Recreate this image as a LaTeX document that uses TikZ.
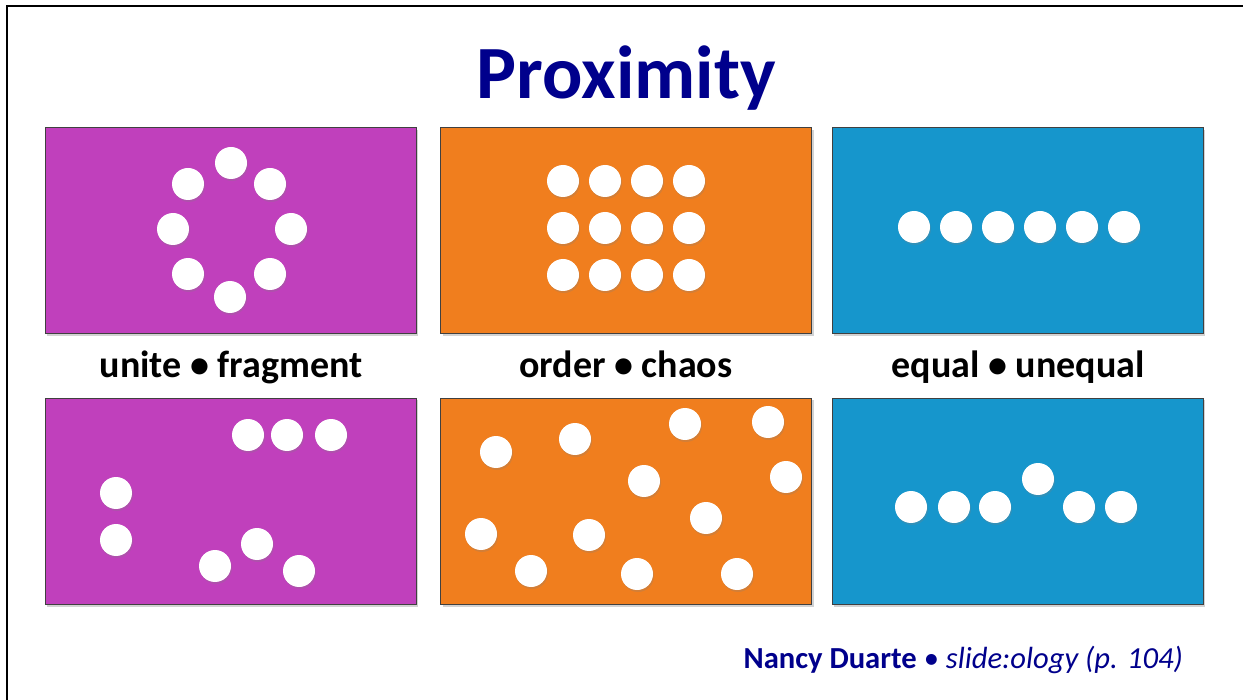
\documentclass[tikz,border=0pt]{standalone}
\usepackage{fontspec}
\setmainfont{Carlito}
\usetikzlibrary{shadows}

\definecolor{navy}{RGB}{0,0,140}
\definecolor{magpanel}{RGB}{192,64,188}
\definecolor{orgpanel}{RGB}{240,126,30}
\definecolor{bluepanel}{RGB}{22,150,204}

\begin{document}
\begin{tikzpicture}[
    x=0.5pt, y=-0.5pt,
    panel/.style={rectangle, draw=black!75, line width=0.5pt, minimum width=185.5pt, minimum height=103pt,
        drop shadow={opacity=0.35, shadow xshift=1pt, shadow yshift=-1pt}},
    dot/.style={circle, fill=white, minimum size=16pt, inner sep=0pt,
        drop shadow={opacity=0.25, shadow xshift=0.5pt, shadow yshift=-1pt}},
    caption/.style={anchor=base, font=\bfseries\fontsize{19}{22}\selectfont}
]
    \useasboundingbox (0,0) rectangle (1243,700);
    \clip (0,0) rectangle (1243,700);
    \fill[white] (0,0) rectangle (1243,700);
    \draw[line width=1.2pt] (7,6) rectangle (1260,720);

    \node[anchor=base, text=navy, font=\bfseries\fontsize{37.6}{42}\selectfont] (title) at (626.5,99) {Proximity};

    % top row
    \node[panel, fill=magpanel] (unite) at (230.5,231) {};
    \node[panel, fill=orgpanel] (order) at (626,231) {};
    \node[panel, fill=bluepanel] (equal) at (1017.5,231) {};

    % bottom row
    \node[panel, fill=magpanel] (fragment) at (230.5,501.5) {};
    \node[panel, fill=orgpanel] (chaos) at (626,501.5) {};
    \node[panel, fill=bluepanel] (unequal) at (1017.5,501.5) {};

    \node[caption] (cap1) at (231,378) {unite • fragment};
    \node[caption] (cap2) at (626,378) {order • chaos};
    \node[caption] (cap3) at (1018,378) {equal • unequal};

    % ring of dots
    \foreach \x/\y [count=\i] in {231/163, 270/184, 291/229, 270/274, 230/297, 188/274, 173/229, 188/184}
        \node[dot] (ring\i) at (\x,\y) {};

    % grid of dots
    \foreach \y [count=\j] in {181, 228, 275}
        \foreach \x [count=\i] in {563, 605, 647, 689}
            \node[dot] (grid\j\i) at (\x,\y) {};

    % even row
    \foreach \x [count=\i] in {914, 956, 998, 1040, 1082, 1124}
        \node[dot] (row\i) at (\x,227) {};

    % broken groups
    \foreach \x/\y [count=\i] in {248/435, 287/435, 331/435, 116/493, 116/540, 215/566, 257/544, 299/571}
        \node[dot] (frag\i) at (\x,\y) {};

    % scattered dots
    \foreach \x/\y [count=\i] in {496/452, 575/439, 685/424, 768/422, 644/481, 786/477,
                                  706/518, 481/534, 589/535, 531/571, 637/574, 737/574}
        \node[dot] (mess\i) at (\x,\y) {};

    % row with one dot lifted
    \foreach \x/\y [count=\i] in {911/507, 954/507, 995/507, 1038/479, 1079/507, 1121/507}
        \node[dot] (odd\i) at (\x,\y) {};

    \node[anchor=base east, text=navy, font=\fontsize{15.3}{18}\selectfont] (source) at (1190,668)
        {\textbf{Nancy Duarte} • \textit{slide:ology (p. 104)}};
\end{tikzpicture}
\end{document}
